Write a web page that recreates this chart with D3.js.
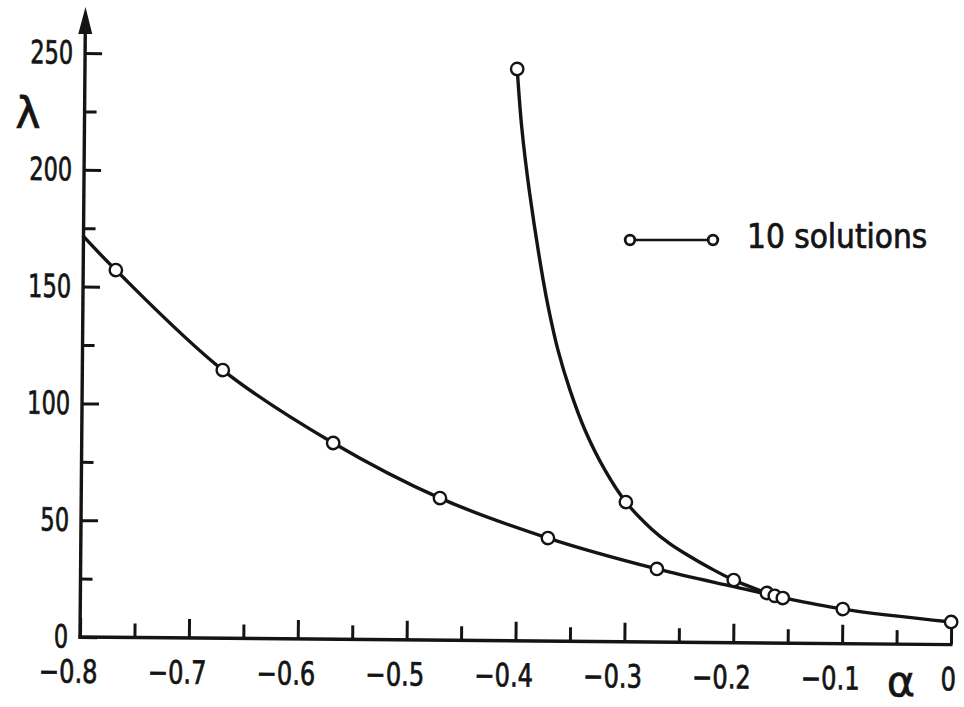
<!DOCTYPE html>
<html>
<head>
<meta charset="utf-8">
<script src="https://cdn.jsdelivr.net/npm/d3@7"></script>
<style>
  html, body { margin: 0; padding: 0; background: #fff; }
  svg { display: block; }
</style>
</head>
<body>
<script>
// Eigenvalue λ against the parameter α, two solution branches.

// Axis ticks
const xTickValues = [-0.8, -0.7, -0.6, -0.5, -0.4, -0.3, -0.2, -0.1, 0];
const xMinorTicks = [-0.75, -0.65, -0.55, -0.45, -0.35, -0.25, -0.15, -0.05];
const yTickValues = [0, 50, 100, 150, 200, 250];
const yMinorTicks = [25, 75, 125, 175, 225];

// Lower branch: traced curve and computed solutions (circles)
const lowerCurveAlpha  = [-0.8, -0.77, -0.671, -0.569, -0.4705, -0.371, -0.2707, -0.2, -0.1622, -0.0996, 0];
const lowerCurveLambda = [171.5, 157.2, 114.8, 84.0, 60.8, 44.1, 31.3, 24.0, 20.2, 14.8, 9.7];
const lowerPointAlpha  = [-0.77, -0.671, -0.569, -0.4705, -0.371, -0.2707, -0.1695, -0.1622, -0.1548, -0.0996, 0];
const lowerPointLambda = [157.2, 114.8, 84.0, 60.8, 44.1, 31.3, 21.4, 20.2, 19.3, 14.8, 9.7];

// Upper branch: traced curve and computed solutions (circles)
const upperCurveAlpha  = [-0.403, -0.3984, -0.3906, -0.3775, -0.372, -0.3633, -0.352, -0.3379, -0.3193, -0.2997, -0.2755, -0.2588, -0.2431, -0.2219, -0.2, -0.1622];
const upperCurveLambda = [244.8, 220.0, 191.7, 154.6, 141.7, 124.6, 107.6, 90.5, 73.5, 59.8, 48.2, 42.1, 37.5, 31.9, 26.8, 20.2];
const upperPointAlpha  = [-0.403, -0.2997, -0.2];
const upperPointLambda = [244.8, 59.8, 26.8];

const legendLabel = "10 solutions";

const W = 964, H = 707;
const ink = "#141414";
const tickFont = "'DejaVu Sans Condensed', 'DejaVu Sans', sans-serif";

const svg = d3.select("body").append("svg")
  .attr("width", W).attr("height", H);
svg.append("rect").attr("width", W).attr("height", H).attr("fill", "#fff");

const x = d3.scaleLinear().domain([-0.8, 0]).range([80, 951]);
const y = d3.scaleLinear().domain([0, 250]).range([637, 53]);

// narrow, heavy lettering for the tick numbers
function narrowLabels(sel, factor) {
  sel.attr("font-family", tickFont)
    .attr("font-stretch", "condensed")
    .attr("font-size", 32)
    .attr("fill", ink)
    .attr("stroke", ink)
    .attr("stroke-width", 0.7)
    .each(function () {
      const len = this.getComputedTextLength();
      d3.select(this)
        .attr("textLength", len * factor)
        .attr("lengthAdjust", "spacingAndGlyphs");
    });
}

// the printed plate sits at a slight angle
const g = svg.append("g").attr("transform", "rotate(0.5,80,637)").attr("color", ink);

// x axis
const fmtX = d => d === 0 ? "0" : "\u2212" + Math.abs(d).toFixed(1);
const gx = g.append("g").attr("transform", `translate(0,${y(0)})`)
  .call(d3.axisBottom(x).tickValues(xTickValues).tickFormat(fmtX)
    .tickSizeInner(-19).tickSizeOuter(0).tickPadding(23));
gx.select(".domain").remove();
gx.selectAll(".tick line").attr("stroke-width", 3);
gx.selectAll(".tick text").attr("dx", d => d < 0 ? -12 : -3);
narrowLabels(gx.selectAll(".tick text"), 0.84);

const gxm = g.append("g").attr("transform", `translate(0,${y(0)})`)
  .call(d3.axisBottom(x).tickValues(xMinorTicks).tickFormat("")
    .tickSizeInner(-14).tickSizeOuter(0));
gxm.select(".domain").remove();
gxm.selectAll(".tick line").attr("stroke-width", 3);

g.append("line")
  .attr("x1", x(-0.8) - 1.5).attr("x2", x(0) + 1.5)
  .attr("y1", y(0)).attr("y2", y(0))
  .attr("stroke", ink).attr("stroke-width", 3.4);

// y axis
const gy = g.append("g").attr("transform", `translate(${x(-0.8)},0)`)
  .call(d3.axisLeft(y).tickValues(yTickValues)
    .tickSizeInner(-17).tickSizeOuter(0).tickPadding(12));
gy.select(".domain").remove();
gy.selectAll(".tick line").attr("stroke-width", 3);
narrowLabels(gy.selectAll(".tick text"), 0.78);

const gym = g.append("g").attr("transform", `translate(${x(-0.8)},0)`)
  .call(d3.axisLeft(y).tickValues(yMinorTicks).tickFormat("")
    .tickSizeInner(-12).tickSizeOuter(0));
gym.select(".domain").remove();
gym.selectAll(".tick line").attr("stroke-width", 3);

const yTop = y(0) - 630;
g.append("line")
  .attr("x1", x(-0.8)).attr("x2", x(-0.8))
  .attr("y1", y(0) + 1.7).attr("y2", yTop + 20)
  .attr("stroke", ink).attr("stroke-width", 3.4);
g.append("path")
  .attr("d", `M${x(-0.8)},${yTop} L${x(-0.8) - 7},${yTop + 27} L${x(-0.8) + 7},${yTop + 27} Z`)
  .attr("fill", ink);

// curves
const line = d3.line()
  .x(d => x(d[0])).y(d => y(d[1]))
  .curve(d3.curveCatmullRom.alpha(0.5));

const lowerCurve = d3.zip(lowerCurveAlpha, lowerCurveLambda);
const upperCurve = d3.zip(upperCurveAlpha, upperCurveLambda);

g.selectAll("path.branch")
  .data([lowerCurve, upperCurve])
  .join("path")
  .attr("class", "branch")
  .attr("d", line)
  .attr("fill", "none")
  .attr("stroke", ink)
  .attr("stroke-width", 3.4)
  .attr("stroke-linejoin", "round")
  .attr("stroke-linecap", "round");

// solution markers
const points = d3.zip(lowerPointAlpha, lowerPointLambda)
  .concat(d3.zip(upperPointAlpha, upperPointLambda));
g.selectAll("circle.sol")
  .data(points)
  .join("circle")
  .attr("class", "sol")
  .attr("cx", d => x(d[0])).attr("cy", d => y(d[1]))
  .attr("r", 6.2)
  .attr("fill", "#fff")
  .attr("stroke", ink)
  .attr("stroke-width", 2.4);

// axis titles
svg.append("text")
  .attr("x", 28).attr("y", 128)
  .attr("text-anchor", "middle")
  .attr("font-family", "'DejaVu Sans', sans-serif")
  .attr("font-size", 42)
  .attr("fill", ink).attr("stroke", ink).attr("stroke-width", 0.8)
  .text("λ");

svg.append("text")
  .attr("x", 901).attr("y", 696)
  .attr("text-anchor", "middle")
  .attr("font-family", "'DejaVu Sans', sans-serif")
  .attr("font-size", 43)
  .attr("fill", ink).attr("stroke", ink).attr("stroke-width", 0.6)
  .text("α");

// legend
const lg = svg.append("g");
lg.append("line")
  .attr("x1", 630).attr("x2", 713).attr("y1", 240).attr("y2", 240)
  .attr("stroke", ink).attr("stroke-width", 2.4);
lg.selectAll("circle")
  .data([630, 713])
  .join("circle")
  .attr("cx", d => d).attr("cy", 240).attr("r", 4.8)
  .attr("fill", "#fff").attr("stroke", ink).attr("stroke-width", 2.8);
lg.append("text")
  .attr("x", 747).attr("y", 248)
  .attr("font-family", "'DejaVu Sans Condensed', 'DejaVu Sans', sans-serif")
  .attr("font-stretch", "condensed")
  .attr("font-size", 33)
  .attr("fill", ink).attr("stroke", ink).attr("stroke-width", 0.7)
  .text(legendLabel);
</script>
</body>
</html>
